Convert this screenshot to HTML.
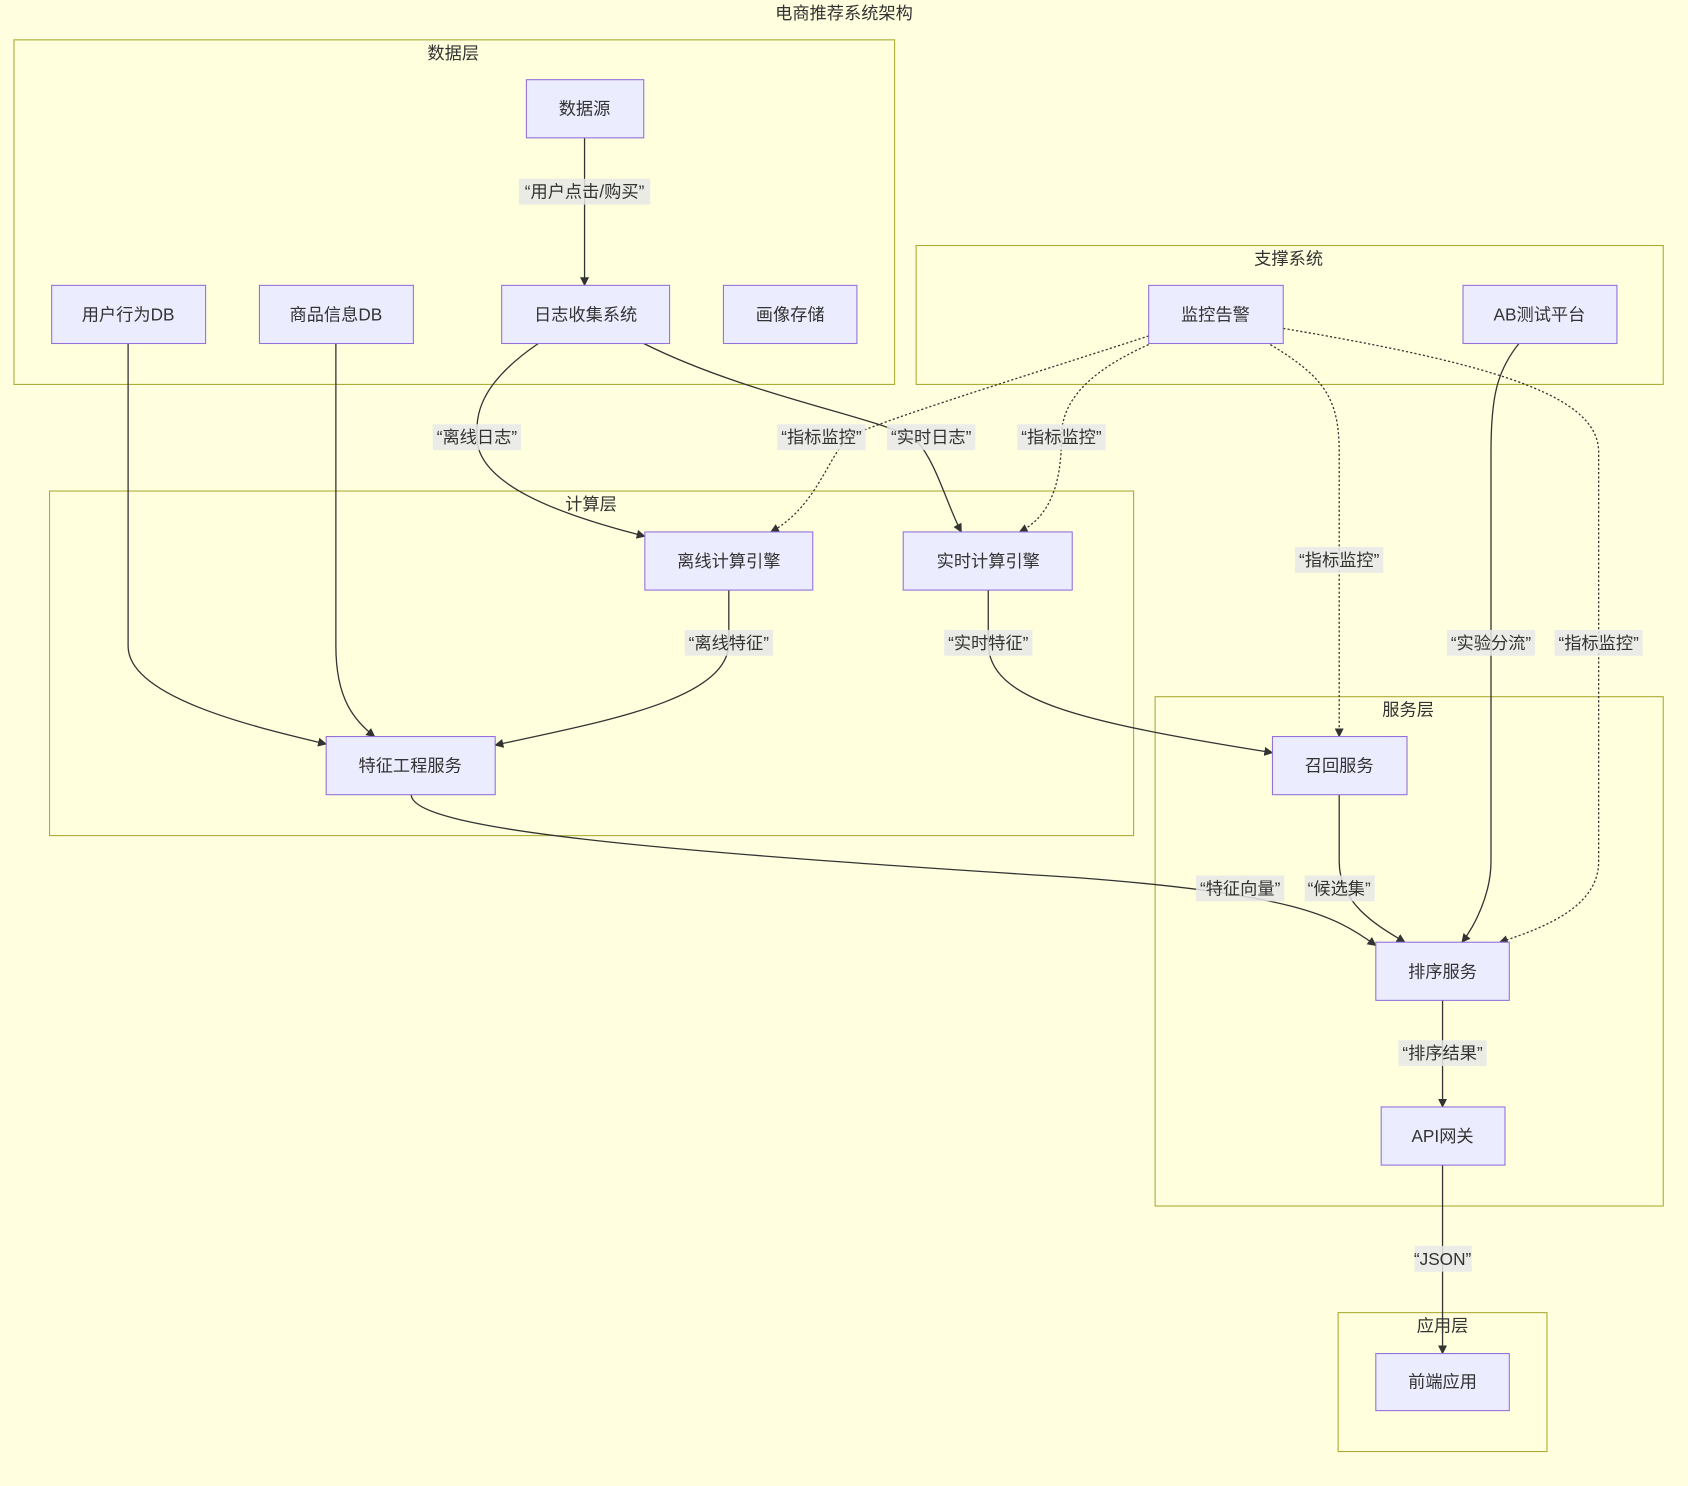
<!DOCTYPE html>
<html><head><meta charset="utf-8"><style>
html,body{margin:0;padding:0;background:#FFFFE0;}
svg{display:block}
text{font-family:"Liberation Sans","Noto Sans CJK SC",sans-serif;fill:#333;font-size:16px;text-anchor:middle;dominant-baseline:central}
.c{fill:#FFFFDE;stroke:#AAAA33;stroke-width:1}
.n{fill:#ECECFF;stroke:#9370DB;stroke-width:1}
.e{fill:none;stroke:#333;stroke-width:1.2}
.d{fill:none;stroke:#333;stroke-width:1.2;stroke-dasharray:2 2}
.lb{fill:rgba(232,232,232,0.85)}
</style></head><body>
<svg width="1688" height="1486" viewBox="0 0 1568 1380" preserveAspectRatio="none">
<defs><marker id="a" viewBox="0 0 10 10" refX="9" refY="5" markerWidth="7" markerHeight="7" orient="auto"><path d="M0,0L10,5L0,10z" fill="#333"/></marker></defs>
<rect width="1568" height="1380" fill="#FFFFE0"/>
<text x="784" y="12">电商推荐系统架构</text>
<rect class="c" x="13" y="37" width="818" height="320"/><text x="421" y="49">数据层</text>
<rect class="c" x="851" y="228" width="694" height="129"/><text x="1197" y="240">支撑系统</text>
<rect class="c" x="46" y="456" width="1007" height="320"/><text x="549" y="468">计算层</text>
<rect class="c" x="1073" y="647" width="472" height="473"/><text x="1308" y="659">服务层</text>
<rect class="c" x="1243" y="1219" width="194" height="129"/><text x="1340" y="1231">应用层</text>

<g marker-end="url(#a)">
<path class="e" d="M543,128 L543,265"/>
<path class="e" d="M119,319 L119,600 C119,650 250,678 303,691"/>
<path class="e" d="M312,319 L312,600 C312,650 330,670 348,684"/>
<path class="e" d="M500,319 C440,360 443,390 443,406 C443,450 520,478 599,498"/>
<path class="e" d="M598,319 C700,370 830,390 852,410 C870,430 880,470 893,494"/>
<path class="d" d="M1067,312 C950,350 820,390 790,405 C770,420 760,470 716,494"/>
<path class="d" d="M1067,320 C1000,350 986,380 986,406 C986,450 975,480 947,494"/>
<path class="d" d="M1180,320 C1230,350 1244,370 1244,420 L1244,684"/>
<path class="d" d="M1192,305 C1400,340 1485,370 1485,420 L1485,800 C1485,840 1440,860 1393,875"/>
<path class="e" d="M1411,319 C1390,345 1385,370 1385,420 L1385,800 C1385,830 1370,860 1358,875"/>
<path class="e" d="M677,548 L677,597 C677,650 560,670 460,692"/>
<path class="e" d="M918,548 L918,597 C918,650 1000,670 1182,699"/>
<path class="e" d="M382,738 C382,770 600,790 1000,815 C1200,830 1240,850 1278,878"/>
<path class="e" d="M1244,738 L1244,800 C1244,840 1280,860 1305,875"/>
<path class="e" d="M1340,929 L1340,1028"/>
<path class="e" d="M1340,1082 L1340,1257"/>
</g>

<g>
<rect class="n" x="489" y="74" width="109" height="54"/><text x="543" y="101">数据源</text>
<rect class="n" x="48" y="265" width="143" height="54"/><text x="119" y="292">用户行为DB</text>
<rect class="n" x="241" y="265" width="143" height="54"/><text x="312" y="292">商品信息DB</text>
<rect class="n" x="466" y="265" width="156" height="54"/><text x="544" y="292">日志收集系统</text>
<rect class="n" x="672" y="265" width="124" height="54"/><text x="734" y="292">画像存储</text>
<rect class="n" x="1067" y="265" width="125" height="54"/><text x="1129" y="292">监控告警</text>
<rect class="n" x="1359" y="265" width="143" height="54"/><text x="1430" y="292">AB测试平台</text>
<rect class="n" x="599" y="494" width="156" height="54"/><text x="677" y="521">离线计算引擎</text>
<rect class="n" x="839" y="494" width="157" height="54"/><text x="918" y="521">实时计算引擎</text>
<rect class="n" x="303" y="684" width="157" height="54"/><text x="381" y="711">特征工程服务</text>
<rect class="n" x="1182" y="684" width="125" height="54"/><text x="1244" y="711">召回服务</text>
<rect class="n" x="1278" y="875" width="124" height="54"/><text x="1340" y="902">排序服务</text>
<rect class="n" x="1283" y="1028" width="115" height="54"/><text x="1340" y="1055">API网关</text>
<rect class="n" x="1278" y="1257" width="124" height="53"/><text x="1340" y="1283">前端应用</text>
</g>

<g>
<rect class="lb" x="482" y="166" width="122" height="24"/><text x="543" y="178">“用户点击/购买”</text>
<rect class="lb" x="402" y="394" width="82" height="24"/><text x="443" y="406">“离线日志”</text>
<rect class="lb" x="722" y="394" width="82" height="24"/><text x="763" y="406">“指标监控”</text>
<rect class="lb" x="824" y="394" width="82" height="24"/><text x="865" y="406">“实时日志”</text>
<rect class="lb" x="945" y="394" width="82" height="24"/><text x="986" y="406">“指标监控”</text>
<rect class="lb" x="1203" y="508" width="82" height="24"/><text x="1244" y="520">“指标监控”</text>
<rect class="lb" x="636" y="585" width="82" height="24"/><text x="677" y="597">“离线特征”</text>
<rect class="lb" x="877" y="585" width="82" height="24"/><text x="918" y="597">“实时特征”</text>
<rect class="lb" x="1344" y="585" width="82" height="24"/><text x="1385" y="597">“实验分流”</text>
<rect class="lb" x="1444" y="585" width="82" height="24"/><text x="1485" y="597">“指标监控”</text>
<rect class="lb" x="1111" y="813" width="82" height="24"/><text x="1152" y="825">“特征向量”</text>
<rect class="lb" x="1212" y="813" width="65" height="24"/><text x="1244" y="825">“候选集”</text>
<rect class="lb" x="1299" y="966" width="82" height="24"/><text x="1340" y="978">“排序结果”</text>
<rect class="lb" x="1314" y="1157" width="53" height="24"/><text x="1340" y="1169">“JSON”</text>
</g>
</svg>
</body></html>
